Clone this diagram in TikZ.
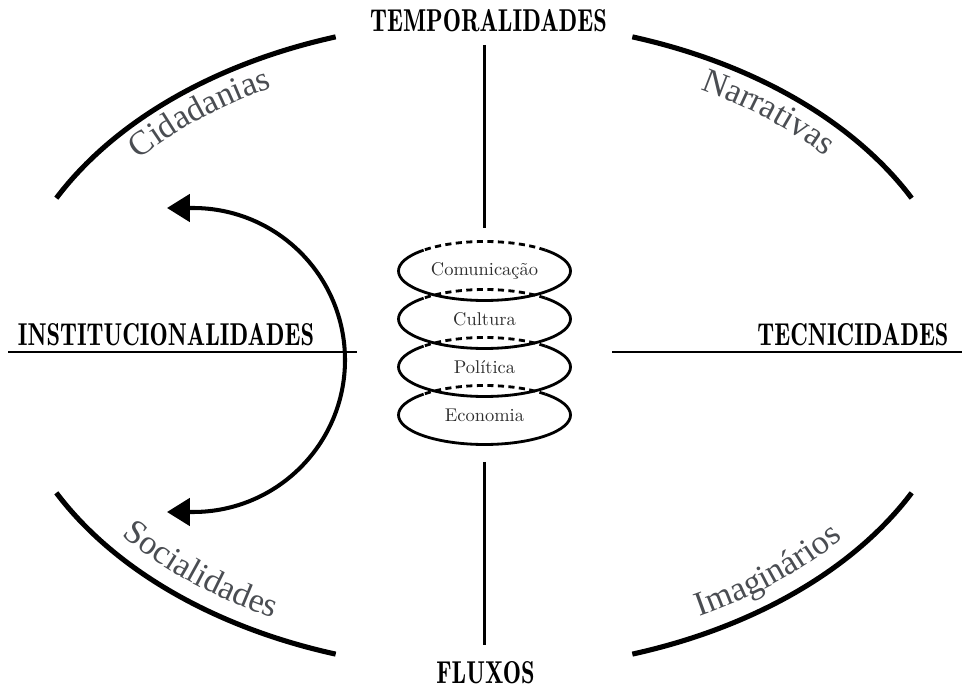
\documentclass[tikz,border=0pt]{standalone}
\usepackage{fontspec}
\usetikzlibrary{arrows.meta,decorations.text}
\newfontfamily\headfont{lmromandemi10-regular.otf}[FakeStretch=0.77]
\newfontfamily\arcfont{Liberation Serif}
\definecolor{tagcol}{HTML}{4A4D52}
\definecolor{inkcol}{HTML}{2E2E2E}

\begin{document}
\begin{tikzpicture}[x=0.02cm, y=0.02cm,
  axisline/.style={line width=1.7pt},
  rim/.style={line width=2.9pt},
  head/.style={font=\headfont\fontsize{18}{20}\selectfont, inner sep=0pt, anchor=base},
  layer/.style={line width=1.6pt},
  tag/.style={font=\fontsize{10.5}{12}\selectfont, text=inkcol},
  arctext/.style={decorate, decoration={text along path, text align=center,
    text={|\arcfont\fontsize{19.5}{22}\selectfont\color{tagcol}|#1}}}]
\useasboundingbox (0,0) rectangle (962,689);
\coordinate (ctr) at (484,343.5);

\node[head] (temp) at (488.5,657) {TEMPORALIDADES};
\node[head] (flux) at (485.5,6) {FLUXOS};
\node[head] (inst) at (166,343) {INSTITUCIONALIDADES};
\node[head] (tecn) at (853,343) {TECNICIDADES};

\coordinate (topA) at (484,644); \coordinate (topB) at (484,461);
\coordinate (botA) at (484,227); \coordinate (botB) at (484,44);
\coordinate (lefA) at (8,337);   \coordinate (lefB) at (357,337);
\coordinate (rigA) at (612,337); \coordinate (rigB) at (962,337);
\draw[axisline] (topA) -- (topB) (botA) -- (botB) (lefA) -- (lefB) (rigA) -- (rigB);

\foreach \s/\e in {108/153, 27/72, 207/252, 288/333}
  \draw[rim] (ctr) ++(\s:480 and 324.5) arc[start angle=\s, end angle=\e, x radius=480, y radius=324.5];

\path[arctext=Cidadanias] (ctr) ++(153:448 and 292.5) arc[start angle=153, end angle=108, x radius=448, y radius=292.5];
\path[arctext=Narrativas] (ctr) ++(72:448 and 292.5) arc[start angle=72, end angle=27, x radius=448, y radius=292.5];
\path[arctext=Socialidades] (ctr) ++(207:462 and 306.5) arc[start angle=207, end angle=252, x radius=462, y radius=306.5];
\path[arctext=Imaginários] (ctr) ++(288:462 and 306.5) arc[start angle=288, end angle=333, x radius=462, y radius=306.5];

\foreach \y/\name [count=\i] in {418/Comunicação, 370/Cultura, 322/Política, 274/Economia} {
  \draw[layer] (484.5,\y) ++(135:86 and 29.5) arc[start angle=135, end angle=405, x radius=86, y radius=29.5];
  \draw[layer, dash pattern=on 3.5pt off 2.5pt] (484.5,\y) ++(45:86 and 29.5) arc[start angle=45, end angle=135, x radius=86, y radius=29.5];
  \node[tag] (lay\i) at (484.5,\y) {\name};
}

\coordinate (arrTop) at (167,481);
\coordinate (arrBot) at (167,177);
\draw[line width=2.3pt, {Triangle[length=13pt,width=15.5pt]}-{Triangle[length=13pt,width=15.5pt]}]
  (arrTop) -- ++(26,0) arc[start angle=90, end angle=-90, radius=152] -- (arrBot);
\end{tikzpicture}
\end{document}
